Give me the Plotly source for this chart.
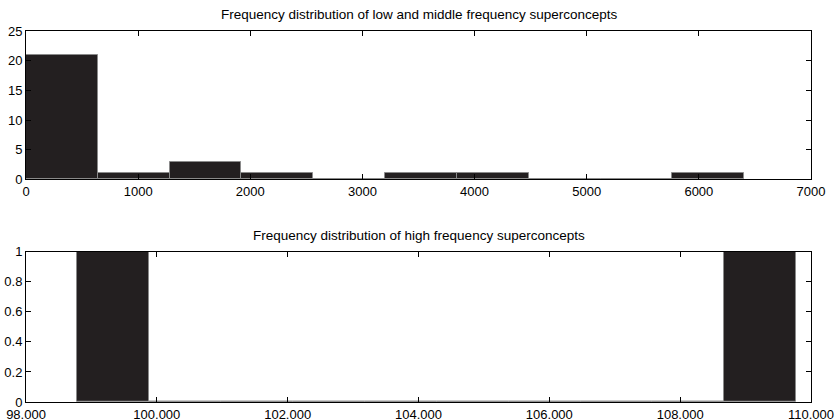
import plotly.graph_objects as go

# ---- data ----
low_edges = [0, 640.5, 1281, 1921.5, 2562, 3202.5, 3843, 4483.5, 5124, 5764.5, 6405]
low_counts = [21, 1, 3, 1, 0, 1, 1, 0, 0, 1]
low_xticks = [0, 1000, 2000, 3000, 4000, 5000, 6000, 7000]
low_xticklabels = ["0", "1000", "2000", "3000", "4000", "5000", "6000", "7000"]
low_yticks = [0, 5, 10, 15, 20, 25]

high_edges = [98787, 99885.7, 100984.4, 102083.1, 103181.8, 104280.5,
              105379.2, 106477.9, 107576.6, 108675.3, 109774]
high_counts = [1, 0, 0, 0, 0, 0, 0, 0, 0, 1]
high_xticks = [98000, 100000, 102000, 104000, 106000, 108000, 110000]
high_xticklabels = ["98.000", "100.000", "102.000", "104.000", "106.000", "108.000", "110.000"]
high_yticks = [0, 0.2, 0.4, 0.6, 0.8, 1]
high_yticklabels = ["0", "0.2", "0.4", "0.6", "0.8", "1"]

title_low = "Frequency distribution of low and middle frequency superconcepts"
title_high = "Frequency distribution of high frequency superconcepts"

BAR = "#231f20"
EDGE = "#8a8a8a"
FONT = "Liberation Sans, Arial, sans-serif"


def centers(edges):
    return [(a + b) / 2 for a, b in zip(edges[:-1], edges[1:])]


def widths(edges):
    return [b - a for a, b in zip(edges[:-1], edges[1:])]


fig = go.Figure()
fig.add_trace(go.Bar(x=centers(low_edges), y=low_counts, width=widths(low_edges),
                     marker=dict(color=BAR, line=dict(color=EDGE, width=1)),
                     xaxis="x", yaxis="y", showlegend=False, hoverinfo="x+y"))
fig.add_trace(go.Bar(x=centers(high_edges), y=high_counts, width=widths(high_edges),
                     marker=dict(color=BAR, line=dict(color=EDGE, width=1)),
                     xaxis="x2", yaxis="y2", showlegend=False, hoverinfo="x+y"))

axis_common = dict(showgrid=False, zeroline=False, showline=True, linecolor="black",
                   linewidth=1, mirror="ticks", ticks="inside", ticklen=5,
                   tickcolor="black", tickwidth=1, automargin=False,
                   tickfont=dict(family=FONT, size=13, color="black"))

fig.update_layout(
    width=836, height=420,
    margin=dict(l=26, r=25, t=31, b=18, autoexpand=False),
    paper_bgcolor="white", plot_bgcolor="white",
    bargap=0,
    font=dict(family=FONT, color="black"),
    xaxis=dict(domain=[0, 1], anchor="y", range=[0, 7000],
               tickvals=low_xticks, ticktext=low_xticklabels, **axis_common),
    yaxis=dict(domain=[0.6, 1], anchor="x", range=[0, 25],
               tickvals=low_yticks, **axis_common),
    xaxis2=dict(domain=[0, 1], anchor="y2", range=[98000, 110000],
                tickvals=high_xticks, ticktext=high_xticklabels, **axis_common),
    yaxis2=dict(domain=[0, 0.405], anchor="x2", range=[0, 1],
                tickvals=high_yticks, ticktext=high_yticklabels, **axis_common),
    annotations=[
        dict(text=title_low, x=0.5, y=1, xref="paper", yref="paper",
             xanchor="center", yanchor="bottom", yshift=7, showarrow=False,
             font=dict(family=FONT, size=13.5, color="black")),
        dict(text=title_high, x=0.5, y=0.405, xref="paper", yref="paper",
             xanchor="center", yanchor="bottom", yshift=7, showarrow=False,
             font=dict(family=FONT, size=13.5, color="black")),
    ],
)

fig.write_html("out.html",
               config={"displayModeBar": False},
               post_script="document.body.style.margin='0';document.body.style.overflow='hidden';")
